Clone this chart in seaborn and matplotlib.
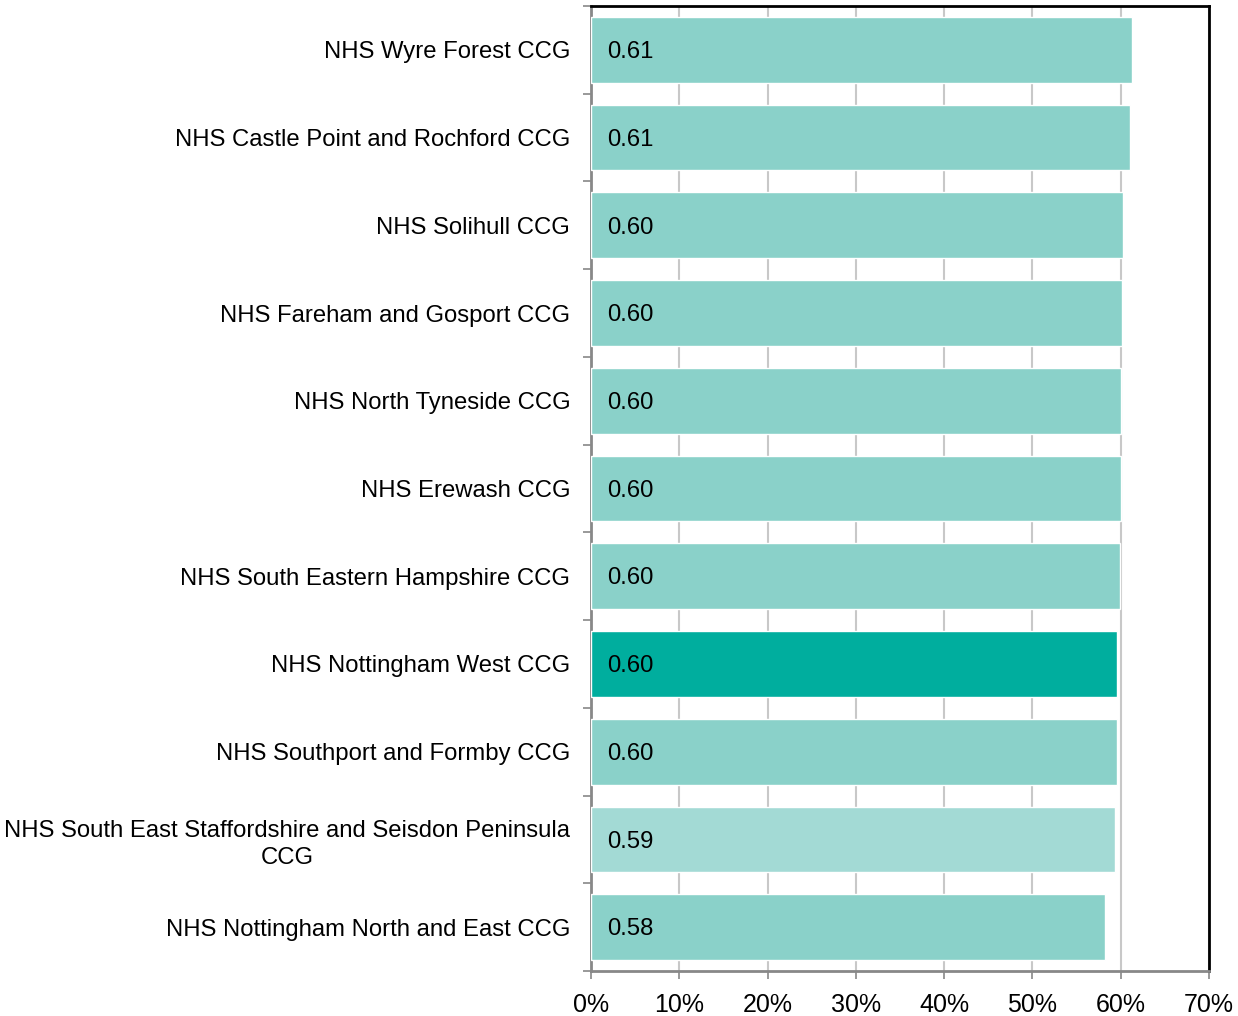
import numpy as np
import pandas as pd
from matplotlib import pyplot as plt
from matplotlib.ticker import FixedLocator, PercentFormatter
import seaborn as sns

ccgs = [
    'NHS Wyre Forest CCG',
    'NHS Castle Point and Rochford CCG',
    'NHS Solihull CCG',
    'NHS Fareham and Gosport CCG',
    'NHS North Tyneside CCG',
    'NHS Erewash CCG',
    'NHS South Eastern Hampshire CCG',
    'NHS Nottingham West CCG',
    'NHS Southport and Formby CCG',
    'NHS South East Staffordshire and Seisdon Peninsula\nCCG',
    'NHS Nottingham North and East CCG',
]
values = [0.613, 0.610, 0.6025, 0.602, 0.600, 0.600, 0.599, 0.596, 0.596, 0.593, 0.582]
bar_colors = ['#8AD1C9'] * 7 + ['#00AE9E', '#8AD1C9', '#A3DAD5', '#8AD1C9']

df = pd.DataFrame({'ccg': ccgs, 'value': values})

sns.set_style('white')
plt.rcParams['font.family'] = ['Liberation Sans', 'DejaVu Sans']

fig = plt.figure(figsize=(12.38, 10.16), dpi=100)
ax = fig.add_axes([591 / 1238, 1 - 971 / 1016, (1209 - 591) / 1238, (971 - 6) / 1016])

sns.barplot(data=df, x='value', y='ccg', hue='ccg', palette=bar_colors, legend=False,
            orient='h', width=0.75, saturation=1, ax=ax, zorder=3)

for i, v in enumerate(values):
    ax.text(0.018, i + 0.025, f'{v:.2f}', va='center', ha='left', fontsize=17.2,
            color='black', zorder=4)

ax.set_xlim(0, 0.70)
ax.set_ylim(len(ccgs) - 0.5, -0.5)
ax.xaxis.set_major_locator(FixedLocator(np.arange(0, 0.71, 0.1)))
ax.xaxis.set_major_formatter(PercentFormatter(1.0, decimals=0))
ax.grid(axis='x', color='#C8C8C8', linewidth=1.5, zorder=0)
ax.set_axisbelow(True)
ax.set_xlabel('')
ax.set_ylabel('')

ax.yaxis.set_minor_locator(FixedLocator(np.arange(-0.5, len(ccgs), 1)))
ax.tick_params(axis='y', which='major', length=0, pad=15, labelsize=17.2, labelcolor='black')
ax.tick_params(axis='y', which='minor', left=True, length=6, width=1.2, color='#888888')
ax.tick_params(axis='x', which='major', bottom=True, length=6, width=1.2, color='#888888',
               labelsize=18, pad=10, labelcolor='black')
for lbl in ax.get_yticklabels():
    lbl.set_multialignment('center')
    lbl.set_linespacing(1.3)

for side in ['left', 'bottom']:
    ax.spines[side].set_color('#888888')
    ax.spines[side].set_linewidth(2)
for side in ['top', 'right']:
    ax.spines[side].set_color('black')
    ax.spines[side].set_linewidth(2)
    ax.spines[side].set_visible(True)

fig.savefig('out.png', dpi=100)
